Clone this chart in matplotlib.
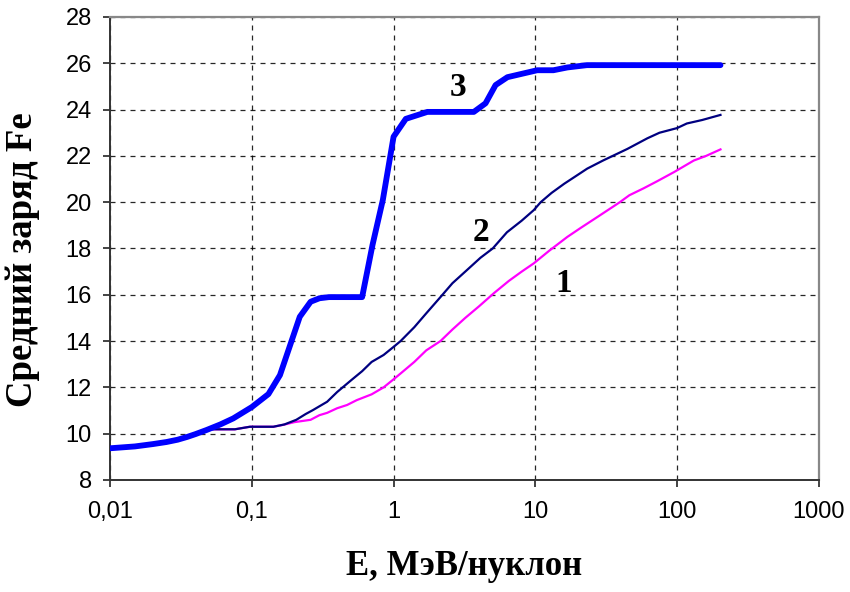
import numpy as np
import matplotlib.pyplot as plt
from matplotlib.ticker import FixedLocator, FixedFormatter, NullLocator

# curve 1 (magenta)
e1 = [0.01, 0.015, 0.02, 0.025, 0.03, 0.035, 0.04, 0.05, 0.076, 0.097, 0.142, 0.166, 0.2, 0.26, 0.3,
      0.34, 0.4, 0.47, 0.55, 0.7, 0.85, 1.0, 1.12, 1.4, 1.7, 2.14, 2.6, 3.2, 4.0, 5.1, 6.5, 8, 9.75,
      12.5, 16.8, 21, 28, 39.4, 46, 58, 72, 95, 131, 160, 202]
q1 = [9.37, 9.45, 9.55, 9.65, 9.75, 9.87, 9.98, 10.19, 10.19, 10.3, 10.3, 10.38, 10.5, 10.6, 10.8,
      10.9, 11.1, 11.24, 11.45, 11.7, 12.0, 12.35, 12.6, 13.1, 13.6, 14.0, 14.5, 15.0, 15.5, 16.07, 16.6, 17.0, 17.36,
      17.9, 18.5, 18.9, 19.4, 20.0, 20.3, 20.6, 20.9, 21.3, 21.8, 22.0, 22.28]

# curve 2 (navy)
e2 = [0.01, 0.015, 0.02, 0.025, 0.03, 0.035, 0.04, 0.05, 0.076, 0.097, 0.142, 0.17, 0.206, 0.24, 0.27,
      0.34, 0.4, 0.5, 0.6, 0.7, 0.85, 1.0, 1.12, 1.4, 1.7, 2.14, 2.6, 3.2, 4.1, 5, 6.3, 8, 9.75, 10.9,
      13, 16, 19, 23.2, 30, 44.5, 61.6, 75, 99.7, 117, 150, 202]
q2 = [9.37, 9.45, 9.55, 9.65, 9.75, 9.87, 9.98, 10.19, 10.19, 10.3, 10.3, 10.4, 10.6, 10.85, 11.02,
      11.38, 11.8, 12.3, 12.7, 13.1, 13.4, 13.75, 14.0, 14.6, 15.2, 15.9, 16.5, 17.0, 17.6, 18.0, 18.7, 19.2, 19.66, 20.0,
      20.4, 20.8, 21.1, 21.45, 21.8, 22.3, 22.76, 23.0, 23.2, 23.4, 23.55, 23.77]

# curve 3 (blue, thick)
e3 = [0.01, 0.015, 0.02, 0.025, 0.03, 0.035, 0.04, 0.048, 0.06, 0.074, 0.1, 0.131, 0.158, 0.218, 0.26,
      0.3, 0.35, 0.6, 0.71, 0.84, 1.0, 1.22, 1.73, 3.68, 4.45, 5.24, 6.35, 10.3, 13.4, 16.8, 23.1, 202]
q3 = [9.37, 9.45, 9.55, 9.64, 9.74, 9.86, 9.98, 10.16, 10.4, 10.66, 11.15, 11.71, 12.53, 15.05, 15.7,
      15.85, 15.9, 15.9, 18.15, 20.1, 22.83, 23.6, 23.9, 23.9, 24.27, 25.06, 25.4, 25.7, 25.7, 25.82, 25.92, 25.92]

labels = ['1', '2', '3']
label_pos = [(15.8, 16.5), (4.1, 18.7), (2.83, 24.95)]

xticks = [0.01, 0.1, 1, 10, 100, 1000]
xticklabels = ['0,01', '0,1', '1', '10', '100', '1000']
yticks = list(range(8, 29, 2))

fig = plt.figure(figsize=(8.5, 5.92), dpi=100)
ax = fig.add_axes([0.1294, 0.1892, 0.9635 - 0.1294, 0.9713 - 0.1892])

ax.plot(e1, q1, color='#FF00FF', lw=1.6, zorder=3)
ax.plot(e2, q2, color='#000080', lw=1.6, zorder=4)
ax.plot(e3, q3, color='#0000FF', lw=4.2, zorder=5, solid_capstyle='round', solid_joinstyle='round')

for txt, (lx, ly) in zip(labels, label_pos):
    ax.text(lx, ly, txt, family='Liberation Serif', fontweight='bold', fontsize=24,
            ha='center', va='center', zorder=6)

ax.set_xscale('log')
ax.set_xlim(0.01, 1000)
ax.set_ylim(8, 28)
ax.xaxis.set_major_locator(FixedLocator(xticks))
ax.xaxis.set_major_formatter(FixedFormatter(xticklabels))
ax.xaxis.set_minor_locator(NullLocator())
ax.set_yticks(yticks)

ax.grid(True, color='black', ls=(0, (4, 4)), lw=0.9, alpha=0.85)
ax.tick_params(axis='both', direction='out', length=5, width=1.2, labelsize=17, colors='#222222',
               labelcolor='black')
ax.tick_params(axis='x', pad=10)
ax.tick_params(axis='y', pad=8)
for lab in ax.get_xticklabels() + ax.get_yticklabels():
    lab.set_family('Liberation Sans')

for s in ['left', 'bottom']:
    ax.spines[s].set_color('#333333')
    ax.spines[s].set_linewidth(1.4)
for s in ['top', 'right']:
    ax.spines[s].set_color('#888888')
    ax.spines[s].set_linewidth(1.6)

ax.set_xlabel('E, МэВ/нуклон', family='Liberation Serif', fontweight='bold', fontsize=25)
ax.set_ylabel('Средний заряд Fe', family='Liberation Serif', fontweight='bold', fontsize=26.5)
ax.xaxis.set_label_coords(0.5, -0.151)
ax.yaxis.set_label_coords(-0.099, 0.475)

fig.savefig('out.png', dpi=100)
